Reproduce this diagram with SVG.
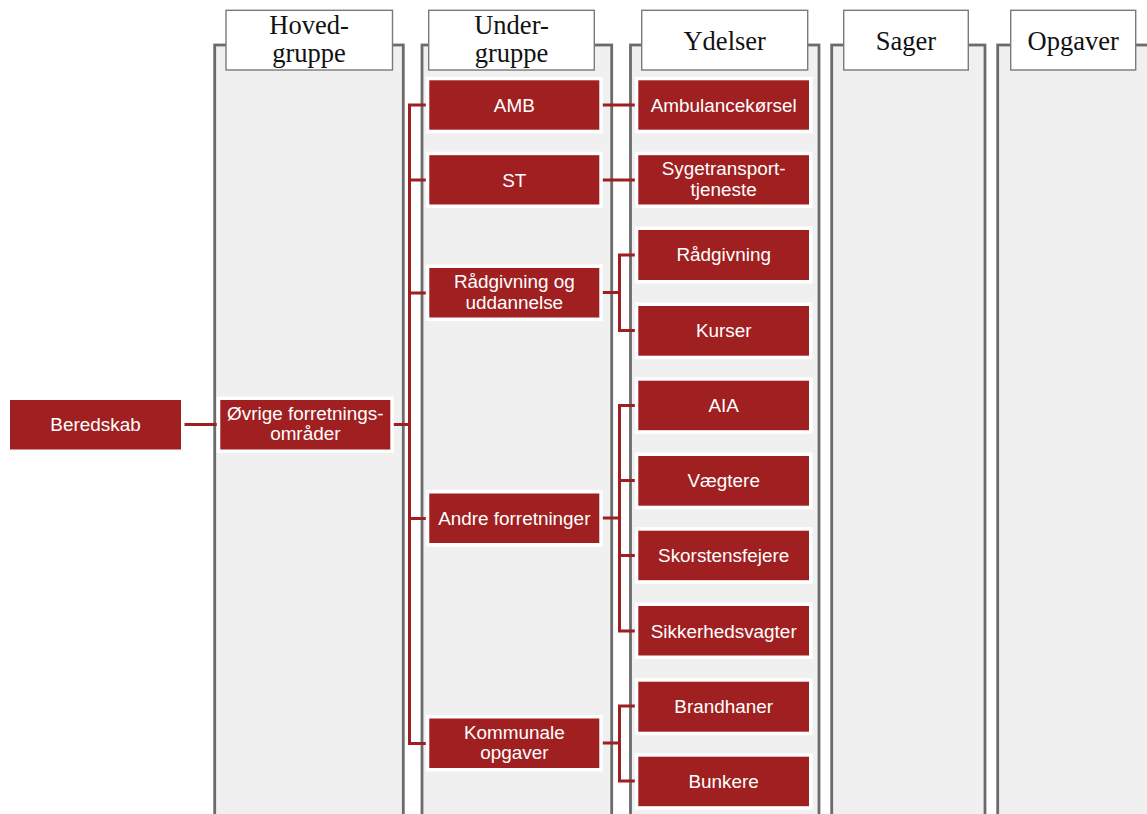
<svg xmlns="http://www.w3.org/2000/svg" width="1147" height="814" viewBox="0 0 1147 814">
  <style>
    .col { fill: #f0f0f0; stroke: #6b6b6b; stroke-width: 2.8; }
    .hdr { fill: #ffffff; stroke: #7a7a7a; stroke-width: 1.4; }
    .hdr-t { font-family: "Liberation Serif", "Times New Roman", serif; font-size: 26.5px; fill: #111111; text-anchor: middle; }
    .box { fill: #a01f21; stroke: #ffffff; stroke-width: 7; paint-order: stroke fill; }
    .lbl { font-family: "Liberation Sans", Arial, sans-serif; font-size: 18.9px; fill: #ffffff; text-anchor: middle; }
    .link { fill: none; stroke: #9e1e21; stroke-width: 3; stroke-linejoin: miter; }
  </style>

  <rect width="1147" height="814" fill="#ffffff"/>

  <!-- swimlane columns -->
  <g id="columns">
    <g id="col-hovedgruppe">
      <rect class="col" x="214.7" y="45" width="188.6" height="800"/>
      <rect class="hdr" x="226" y="10.3" width="166.5" height="59.7"/>
      <text class="hdr-t" x="309" y="34">Hoved-</text>
      <text class="hdr-t" x="309" y="62">gruppe</text>
    </g>
    <g id="col-undergruppe">
      <rect class="col" x="422" y="45" width="189.7" height="800"/>
      <rect class="hdr" x="428.7" y="10.3" width="165.6" height="59.7"/>
      <text class="hdr-t" x="511.5" y="34">Under-</text>
      <text class="hdr-t" x="511.5" y="62">gruppe</text>
    </g>
    <g id="col-ydelser">
      <rect class="col" x="630.5" y="45" width="188.5" height="800"/>
      <rect class="hdr" x="641.7" y="10.3" width="166" height="59.7"/>
      <text class="hdr-t" x="724.7" y="50">Ydelser</text>
    </g>
    <g id="col-sager">
      <rect class="col" x="831.7" y="45" width="153.3" height="800"/>
      <rect class="hdr" x="843.7" y="10.3" width="124.6" height="59.7"/>
      <text class="hdr-t" x="906" y="50">Sager</text>
    </g>
    <g id="col-opgaver">
      <rect class="col" x="997.7" y="45" width="170" height="800"/>
      <rect class="hdr" x="1010.7" y="10.3" width="125" height="59.7"/>
      <text class="hdr-t" x="1073.2" y="50">Opgaver</text>
    </g>
  </g>

  <!-- connectors -->
  <g id="connectors">
    <path class="link" d="M181 424.5 H220"/>
    <path class="link" d="M390 424.5 H409.5"/>
    <path class="link" d="M429 105 H409.5 V743.5 H429"/>
    <path class="link" d="M409.5 180 H429"/>
    <path class="link" d="M409.5 293 H429"/>
    <path class="link" d="M409.5 518.5 H429"/>
    <path class="link" d="M599 105 H638"/>
    <path class="link" d="M599 180 H638"/>
    <path class="link" d="M599 292.5 H619.5"/>
    <path class="link" d="M638 255 H619.5 V330.5 H638"/>
    <path class="link" d="M599 518 H619.5"/>
    <path class="link" d="M638 405.5 H619.5 V631 H638"/>
    <path class="link" d="M619.5 480.5 H638"/>
    <path class="link" d="M619.5 555.5 H638"/>
    <path class="link" d="M599 743 H619.5"/>
    <path class="link" d="M638 706 H619.5 V781 H638"/>
  </g>

  <!-- root and main group -->
  <g id="n-beredskab">
    <rect class="box" x="10" y="400" width="171" height="49.5"/>
    <text class="lbl" x="95.5" y="430.5">Beredskab</text>
  </g>
  <g id="n-ovrige">
    <rect class="box" x="220.3" y="400" width="170" height="49.5"/>
    <text class="lbl" x="305.3" y="419.5">Øvrige forretnings-</text>
    <text class="lbl" x="305.3" y="440">områder</text>
  </g>

  <!-- sub groups -->
  <g id="n-amb">
    <rect class="box" x="429.3" y="80.3" width="170" height="49.4"/>
    <text class="lbl" x="514.3" y="111.5">AMB</text>
  </g>
  <g id="n-st">
    <rect class="box" x="429.3" y="155.2" width="170" height="49.3"/>
    <text class="lbl" x="514.3" y="186.5">ST</text>
  </g>
  <g id="n-radgivning-uddannelse">
    <rect class="box" x="429.3" y="268" width="170" height="49.5"/>
    <text class="lbl" x="514.3" y="288">Rådgivning og</text>
    <text class="lbl" x="514.3" y="308.5">uddannelse</text>
  </g>
  <g id="n-andre">
    <rect class="box" x="429.3" y="493.5" width="170" height="49.5"/>
    <text class="lbl" x="514.3" y="524.5">Andre forretninger</text>
  </g>
  <g id="n-kommunale">
    <rect class="box" x="429.3" y="718.5" width="170" height="49.5"/>
    <text class="lbl" x="514.3" y="738.5">Kommunale</text>
    <text class="lbl" x="514.3" y="759">opgaver</text>
  </g>

  <!-- services -->
  <g id="n-ambulancekorsel">
    <rect class="box" x="638.3" y="80.3" width="170.7" height="49.4"/>
    <text class="lbl" x="723.7" y="111.5">Ambulancekørsel</text>
  </g>
  <g id="n-sygetransport">
    <rect class="box" x="638.3" y="155.2" width="170.7" height="49.3"/>
    <text class="lbl" x="723.7" y="175">Sygetransport-</text>
    <text class="lbl" x="723.7" y="195.5">tjeneste</text>
  </g>
  <g id="n-radgivning">
    <rect class="box" x="638.3" y="230" width="170.7" height="50"/>
    <text class="lbl" x="723.7" y="261">Rådgivning</text>
  </g>
  <g id="n-kurser">
    <rect class="box" x="638.3" y="306" width="170.7" height="49.7"/>
    <text class="lbl" x="723.7" y="337">Kurser</text>
  </g>
  <g id="n-aia">
    <rect class="box" x="638.3" y="380.7" width="170.7" height="49.5"/>
    <text class="lbl" x="723.7" y="412">AIA</text>
  </g>
  <g id="n-vaegtere">
    <rect class="box" x="638.3" y="456" width="170.7" height="49.7"/>
    <text class="lbl" x="723.7" y="487">Vægtere</text>
  </g>
  <g id="n-skorstensfejere">
    <rect class="box" x="638.3" y="530.7" width="170.7" height="49.5"/>
    <text class="lbl" x="723.7" y="562">Skorstensfejere</text>
  </g>
  <g id="n-sikkerhedsvagter">
    <rect class="box" x="638.3" y="606" width="170.7" height="49.5"/>
    <text class="lbl" x="723.7" y="637.5">Sikkerhedsvagter</text>
  </g>
  <g id="n-brandhaner">
    <rect class="box" x="638.3" y="681.7" width="170.7" height="50"/>
    <text class="lbl" x="723.7" y="712.5">Brandhaner</text>
  </g>
  <g id="n-bunkere">
    <rect class="box" x="638.3" y="756.7" width="170.7" height="49.5"/>
    <text class="lbl" x="723.7" y="787.5">Bunkere</text>
  </g>
</svg>
